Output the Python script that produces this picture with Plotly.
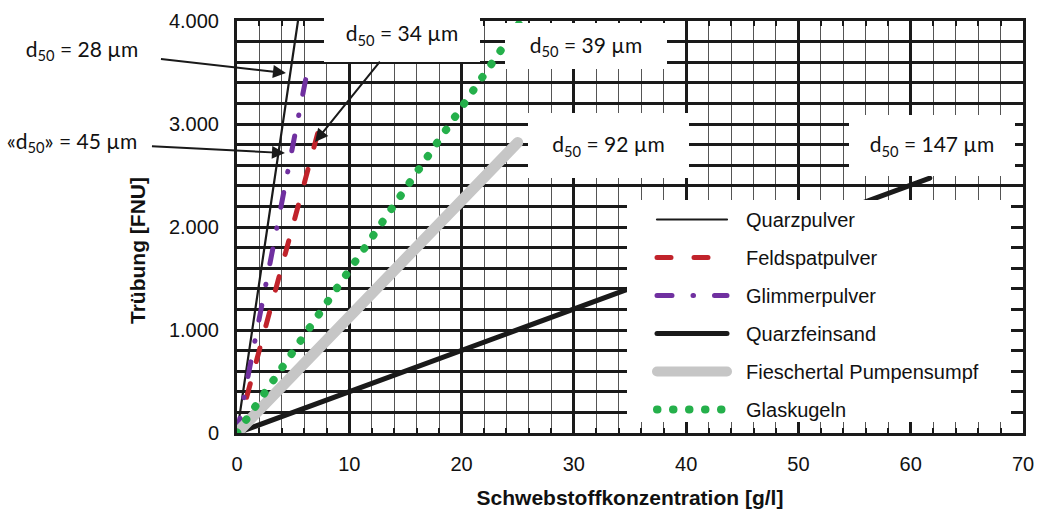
import plotly.graph_objects as go

# ---------------- data ----------------
series_names = ["Quarzpulver", "Feldspatpulver", "Glimmerpulver",
                "Quarzfeinsand", "Fieschertal Pumpensumpf", "Glaskugeln"]

conc_quarzpulver = [0, 5.43]
turb_quarzpulver = [0, 4000]
conc_feldspat = [0, 7.2]
turb_feldspat = [0, 2915]
conc_glimmer = [0, 6.2]
turb_glimmer = [0, 3480]
conc_feinsand = [0, 61.7]
turb_feinsand = [0, 2475]
conc_fiesch = [0, 25.0]
turb_fiesch = [0, 2820]
conc_glas = [0, 25.3]
turb_glas = [0, 4000]

x_tickvals = [0, 10, 20, 30, 40, 50, 60, 70]
y_tickvals = [0, 1000, 2000, 3000, 4000]
y_ticktext = ["0", "1.000", "2.000", "3.000", "4.000"]

d50_labels = ["d<sub>50</sub> = 28 µm", "«d<sub>50</sub>» = 45 µm", "d<sub>50</sub> = 34 µm",
              "d<sub>50</sub> = 39 µm", "d<sub>50</sub> = 92 µm", "d<sub>50</sub> = 147 µm"]

x_title = "Schwebstoffkonzentration [g/l]"
y_title = "Trübung [FNU]"

# ---------------- figure ----------------
W, H = 1039, 513
ML, MR, MT, MB = 237, 16, 21, 80
PW, PH = W - ML - MR, H - MT - MB


def px_x(p):
    return (p - ML) / PW


def px_y(p):
    return (MT + PH - p) / PH


fig = go.Figure()

styles = [
    dict(color="#1a1a1a", width=2.2),
    dict(color="#c1232b", width=5, dash="14px,23px"),
    dict(color="#7030a0", width=5, dash="15px,21px,0.5px,21px"),
    dict(color="#1a1a1a", width=5),
    dict(color="#c6c6c6", width=11),
    dict(color="#25b04b", width=8, dash="0.5px,15.5px"),
]
xs = [conc_quarzpulver, conc_feldspat, conc_glimmer, conc_feinsand, conc_fiesch, conc_glas]
ys = [turb_quarzpulver, turb_feldspat, turb_glimmer, turb_feinsand, turb_fiesch, turb_glas]

legend_pad = "\u2002\u2009"
for i, (name, x, y, st) in enumerate(zip(series_names, xs, ys, styles)):
    fig.add_trace(go.Scatter(x=x, y=y, mode="lines", name=legend_pad + name, line=st,
                             legendgroup=f"g{i}", hoverinfo="skip"))

# white legend area: hide the grid (keeps the axis ticks) ...
fig.add_shape(type="rect", xref="paper", yref="paper",
              x0=px_x(627), x1=1, y0=0, y1=px_y(200),
              fillcolor="white", line=dict(width=0), layer="between")
# ... and hide the curves that pass behind the legend (away from the axis ticks)
fig.add_shape(type="rect", xref="paper", yref="paper",
              x0=px_x(627), x1=px_x(1011), y0=px_y(422), y1=px_y(200),
              fillcolor="white", line=dict(width=0), layer="above")

tick_font = dict(family="Liberation Sans, Arial", size=20, color="#111")
title_font = dict(family="Liberation Sans, Arial", size=21, color="#111", weight="bold")
ann_font = dict(family="Lato, Open Sans", size=21, color="#111")

fig.update_xaxes(range=[0, 70], tickvals=x_tickvals, showgrid=True,
                 gridcolor="#1a1a1a", gridwidth=3,
                 minor=dict(dtick=2, showgrid=True, gridcolor="#555", gridwidth=1.4,
                            ticks="inside", ticklen=5, tickwidth=1.5, tickcolor="#1a1a1a"),
                 ticks="inside", ticklen=9, tickwidth=3, tickcolor="#1a1a1a",
                 showline=True, linecolor="#1a1a1a", linewidth=3, mirror="allticks",
                 zeroline=False, tickfont=tick_font, ticklabelstandoff=11,
                 automargin=False,
                 title=dict(text=x_title, font=title_font, standoff=17))
fig.update_yaxes(range=[0, 4000], tickvals=y_tickvals, ticktext=y_ticktext, showgrid=True,
                 gridcolor="#1a1a1a", gridwidth=2.6,
                 minor=dict(dtick=200, showgrid=True, gridcolor="#1a1a1a", gridwidth=2.6,
                            ticks="inside", ticklen=6, tickwidth=2.5, tickcolor="#1a1a1a"),
                 ticks="inside", ticklen=8, tickwidth=3, tickcolor="#1a1a1a",
                 showline=True, linecolor="#1a1a1a", linewidth=3, mirror="allticks",
                 zeroline=False, tickfont=tick_font, ticklabelstandoff=11,
                 automargin=False)

common = dict(font=ann_font, bgcolor="white", borderpad=0, borderwidth=0)
arrow = dict(showarrow=True, arrowhead=2, arrowsize=1.3, arrowwidth=2, arrowcolor="#1a1a1a")
annotations = [
    dict(text=d50_labels[0], x=4.36, y=3495, xref="x", yref="y", ax=-204, ay=-23,
         width=158, **arrow, **common),
    dict(text=d50_labels[1], x=4.27, y=2718, xref="x", yref="y", ax=-213, ay=-11,
         width=160, **arrow, **common),
    dict(text=d50_labels[2], x=6.95, y=2825, xref="x", yref="y", ax=87, ay=-108,
         width=156, height=55, **arrow, **common),
    dict(text=d50_labels[3], x=px_x(586), y=px_y(46), xref="paper", yref="paper",
         width=162, height=46, showarrow=False, xanchor="center", yanchor="middle", **common),
    dict(text=d50_labels[4], x=px_x(608), y=px_y(145), xref="paper", yref="paper",
         width=161, height=65, showarrow=False, xanchor="center", yanchor="middle", **common),
    dict(text=d50_labels[5], x=px_x(932), y=px_y(145), xref="paper", yref="paper",
         width=166, height=61, showarrow=False, xanchor="center", yanchor="middle", **common),
    # y axis title
    dict(text=y_title, x=px_x(137), y=px_y(251), xref="paper", yref="paper",
         textangle=-90, showarrow=False, xanchor="center", yanchor="middle",
         font=title_font),
]

fig.update_layout(
    width=W, height=H,
    margin=dict(l=ML, r=MR, t=MT, b=MB, pad=0, autoexpand=False),
    paper_bgcolor="white", plot_bgcolor="white",
    annotations=annotations,
    showlegend=True,
    legend=dict(x=px_x(652), y=px_y(200), xanchor="left", yanchor="top",
                bgcolor="rgba(0,0,0,0)", borderwidth=0,
                font=dict(family="Liberation Sans, Arial", size=20, color="#111"),
                itemwidth=70, tracegroupgap=9, traceorder="grouped"),
)

post = """
var gd = document.getElementById('{plot_id}');
function rc(){ gd.querySelectorAll('path.js-line').forEach(function(p){ p.style.strokeLinecap='round'; }); }
rc();
gd.on('plotly_afterplot', rc);
"""
fig.write_html("out.html", post_script=post)
